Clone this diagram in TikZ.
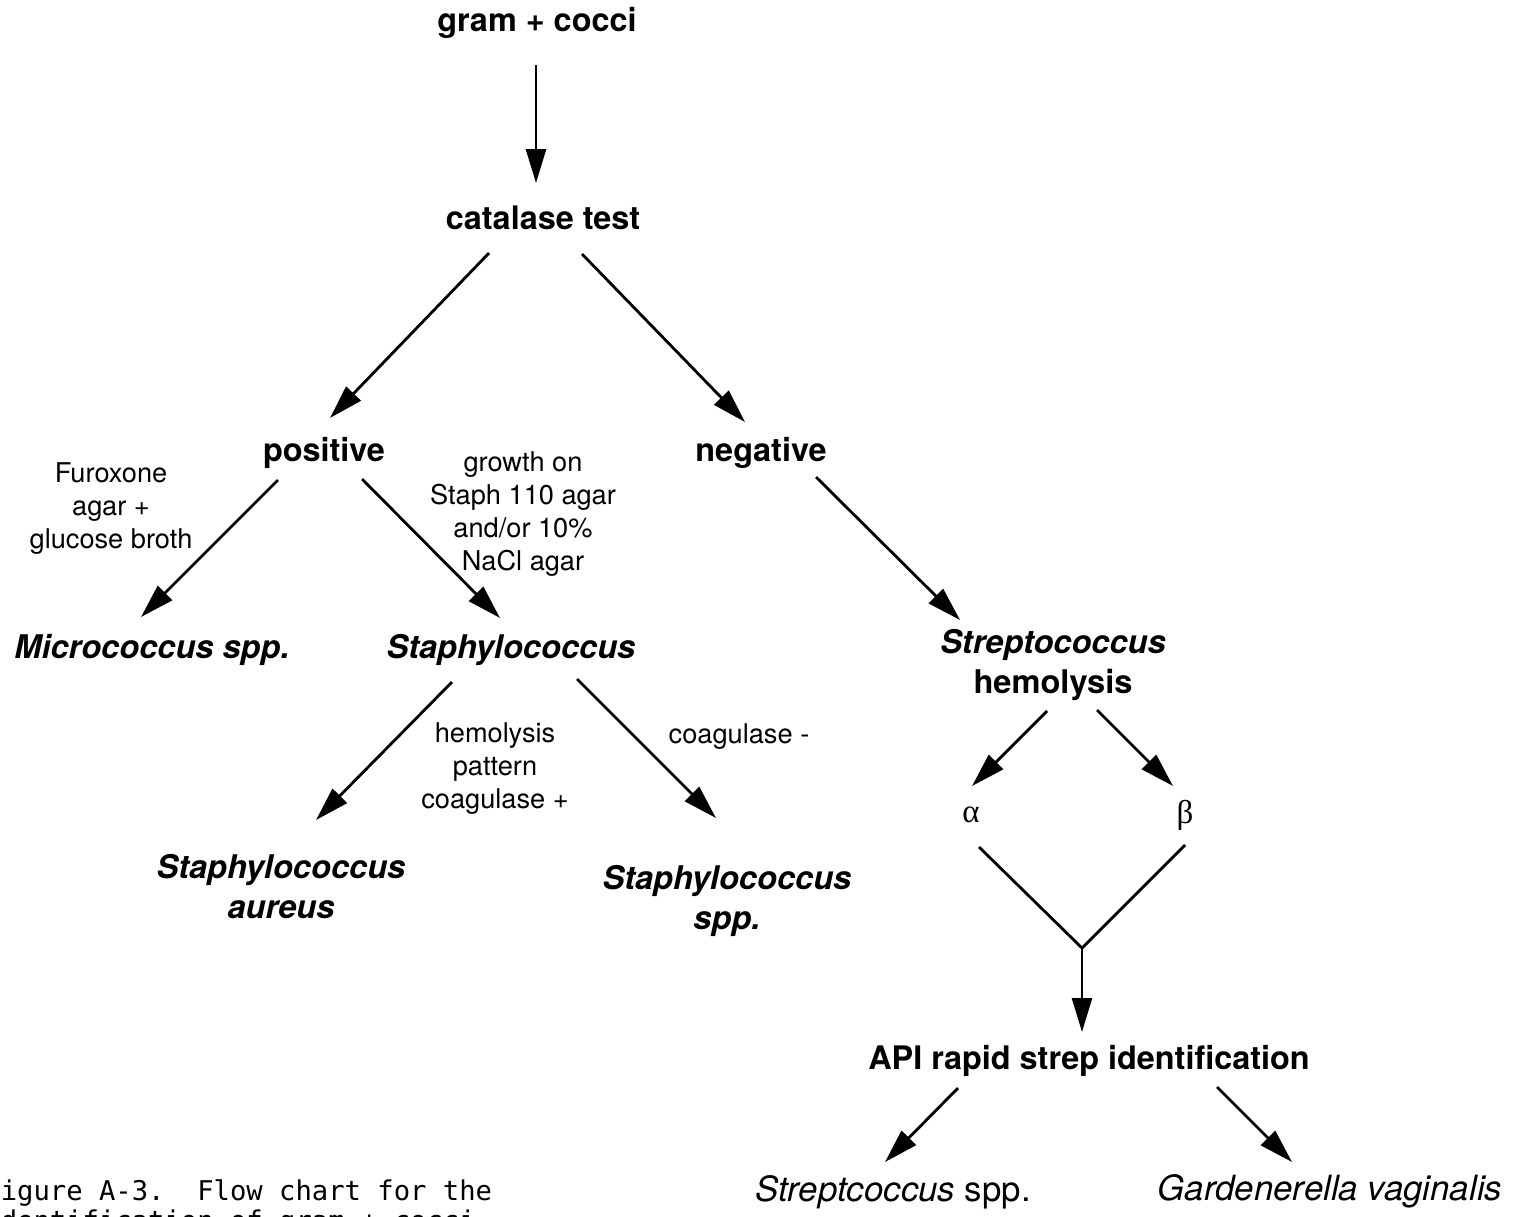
\documentclass[tikz,border=0pt]{standalone}
\usepackage{fontspec}
\setmainfont{TeX Gyre Heros}
\newfontfamily\greekfont{Liberation Serif}
\newfontfamily\capfont{DejaVu Sans Mono}
\usetikzlibrary{arrows.meta}
\usetikzlibrary{calc}

\begin{document}
\begin{tikzpicture}[x=0.5pt,y=-0.5pt,
  head/.style={font=\fontsize{16.2}{19.5}\selectfont\bfseries, align=center, inner sep=0pt},
  genus/.style={font=\fontsize{16.3}{20}\selectfont\bfseries, align=center, inner sep=0pt},
  note/.style={font=\fontsize{13.6}{16.5}\selectfont, align=center, inner sep=0pt},
  final/.style={font=\fontsize{17.4}{20}\selectfont, inner sep=0pt},
  greek/.style={font=\fontsize{16.5}{20}\selectfont\greekfont, inner sep=0pt},
  capt/.style={font=\fontsize{13.6}{15}\selectfont\capfont, align=left, inner sep=0pt},
  line/.style={line width=1.4pt},
  arr/.style={line width=1.4pt, -{Triangle[length=17pt,width=10pt]}}]
\useasboundingbox (0,0) rectangle (1514,1216);
\clip (0,0) rectangle (1514,1216);

\node[head] (gram) at (537,23) {gram + cocci};
\node[head] (cat) at (543,218) {catalase test};
\node[head] (pos) at (324,453) {positive};
\node[head] (neg) at (761,453) {negative};
\node[note] (furox) at (111,509) {Furoxone\\agar +\\glucose broth};
\node[note] (growth) at (523,514) {growth on\\Staph 110 agar\\and/or 10\%\\NaCl agar};
\node[genus] (micro) at (152,650) {\itshape Micrococcus spp.};
\node[genus] (staph) at (511,650) {\itshape Staphylococcus};
\node[genus] (strep) at (1053,665) {{\itshape Streptococcus}\\hemolysis};
\node[note] (hemo) at (495,769) {hemolysis\\pattern\\coagulase +};
\node[note] (coagneg) at (739,737) {coagulase -};
\node[genus] (aureus) at (281,887) {\itshape Staphylococcus\\\itshape aureus};
\node[genus] (sspp) at (727,901) {\itshape Staphylococcus\\\itshape spp.};
\node[greek] (alpha) at (971,815) {α};
\node[greek] (beta) at (1185,815) {β};
\coordinate (join) at (1082,948);
\node[head] (api) at (1089,1061) {API rapid strep identification};
\node[final] (strepspp) at (893,1192) {\textit{Streptcoccus} spp.};
\node[final] (gard) at (1330,1191) {\textit{Gardenerella vaginalis}};
\node[capt, anchor=north west] (caption) at (-16,1179) {Figure A-3.~~Flow chart for the\\identification of gram + cocci};

\draw[arr] ($(gram)+(-1,42)$) -- ($(cat)+(-7,-35)$);
\draw[arr] ($(cat)+(-54,35)$) -- ($(pos)+(6,-35)$);
\draw[arr] ($(cat)+(39,36)$) -- ($(neg)+(-16,-31)$);
\draw[arr] ($(pos)+(-46,27)$) -- ($(micro)+(-11,-33)$);
\draw[arr] ($(pos)+(38,26)$) -- ($(staph)+(-11,-32)$);
\draw[arr] ($(neg)+(55,24)$) -- ($(strep)+(-93,-45)$);
\draw[arr] ($(staph)+(-59,32)$) -- ($(aureus)+(35,-67)$);
\draw[arr] ($(staph)+(66,29)$) -- ($(sspp)+(-11,-83)$);
\draw[arr] ($(strep)+(-6,46)$) -- ($(alpha)+(1,-29)$);
\draw[arr] ($(strep)+(44,45)$) -- ($(beta)+(-12,-29)$);
\draw[line] ($(alpha)+(8,32)$) -- (join) -- ($(beta)+(0,30)$);
\draw[arr] (join) -- ($(api)+(-7,-29)$);
\draw[arr] ($(api)+(-131,27)$) -- ($(strepspp)+(-8,-30)$);
\draw[arr] ($(api)+(128,26)$) -- ($(gard)+(-38,-29)$);
\end{tikzpicture}
\end{document}
